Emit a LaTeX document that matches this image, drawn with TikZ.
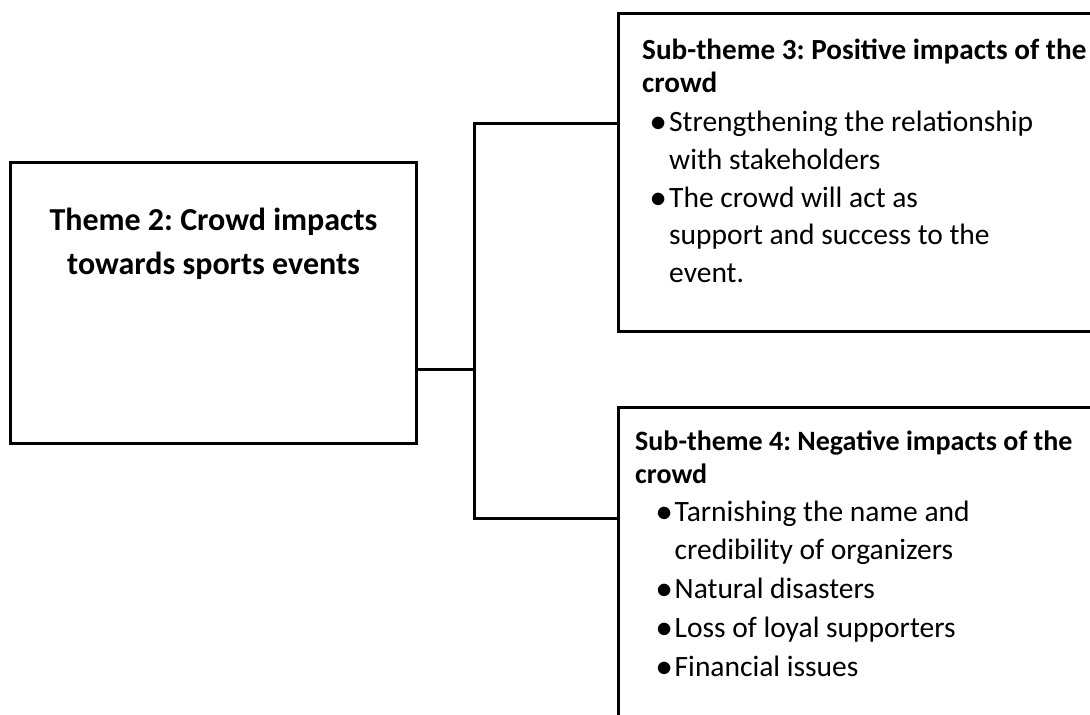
\documentclass[tikz,border=0pt]{standalone}
\usepackage{fontspec}
\setmainfont{Carlito}
\usetikzlibrary{positioning}

\newcommand{\dotitem}[1]{\hspace*{#1}\makebox[17.5pt][l]{\hspace*{-1pt}\scalebox{1.3}{$\bullet$}}}
\newcommand{\dotcont}[1]{\hspace*{#1}\hspace*{17.5pt}}
\newcommand{\headfont}[1]{\bfseries\fontsize{#1}{#1}\selectfont}

\tikzset{
  box/.style = {draw, rectangle, line width=3pt, inner sep=0pt, outer sep=0pt},
  link/.style = {line width=3pt},
  body/.style = {inner sep=0pt, anchor=north west, align=left,
                 font=\frenchspacing\fontsize{29.5}{37.7}\selectfont},
}

\begin{document}
\begin{tikzpicture}[x=1pt, y=-1pt]
  \path[use as bounding box] (0,0) rectangle (1090,715);
  \clip (0,0) rectangle (1090,715);

  % boxes
  \node[box, minimum width=406, minimum height=281.7] (theme) at (213.5,302.85) {};
  \node[box, minimum width=481.5, minimum height=318] (pos) at (859.25,172.5) {};
  \node[box, minimum width=481.5, minimum height=323] (neg) at (859.25,568.5) {};

  % texts
  \node[inner sep=0pt, anchor=north, align=center,
        font=\frenchspacing\bfseries\fontsize{32}{44}\selectfont]
        (themetext) at ([yshift=-46pt]theme.north)
        {Theme 2: Crowd impacts\\ towards sports events};

  \node[body] (postext) at ([xshift=23.5pt, yshift=-25.5pt]pos.north west)
        {{\headfont{29.2}Sub-theme 3: Positive impacts of the}\\[-4.7pt]
         {\headfont{29.2}crowd}\\[1.3pt]
         \dotitem{9.5pt}Strengthening the relationship\\
         \dotcont{9.5pt}with stakeholders\\
         \dotitem{9.5pt}The crowd will act as\\
         \dotcont{9.5pt}support and success to the\\
         \dotcont{9.5pt}event.};

  \node[body] (negtext) at ([xshift=16.5pt, yshift=-23.3pt]neg.north west)
        {{\headfont{28}Sub-theme 4: Negative impacts of the}\\[-4.7pt]
         {\headfont{28}crowd}\\[0.3pt]
         \dotitem{22pt}Tarnishing the name and\\[1pt]
         \dotcont{22pt}credibility of organizers\\[1pt]
         \dotitem{22pt}Natural disasters\\[1pt]
         \dotitem{22pt}Loss of loyal supporters\\[1.5pt]
         \dotitem{22pt}Financial issues};

  % connectors
  \coordinate (hub) at (474,369);
  \coordinate (uparm) at (474,123);
  \coordinate (loarm) at (474,518);
  \draw[link] (theme.east |- hub) -- (hub);
  \draw[link] (uparm -| pos.west) -- (uparm) -- (loarm) -- (loarm -| neg.west);
\end{tikzpicture}
\end{document}
